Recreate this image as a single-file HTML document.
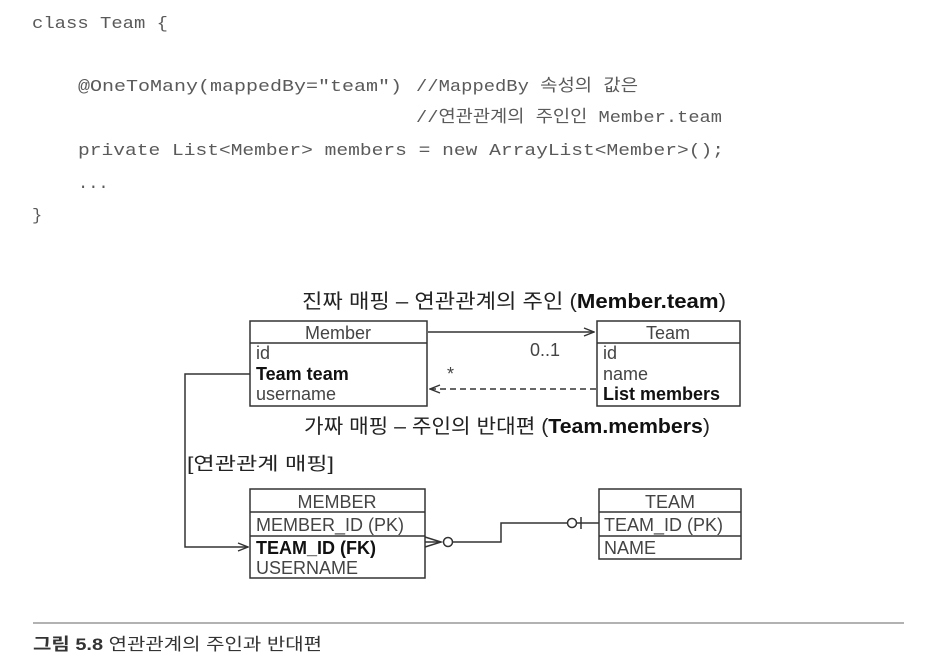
<!DOCTYPE html>
<html><head><meta charset="utf-8"><style>
html,body{margin:0;padding:0;background:#fff;}
svg{display:block}
.code{font-family:"Liberation Mono","Noto Sans CJK KR",monospace;font-size:17px;fill:#5a5a5a;}
.k{font-family:"Liberation Sans","Noto Sans CJK KR",sans-serif;}
</style></head><body>
<svg width="932" height="666" viewBox="0 0 932 666" xmlns="http://www.w3.org/2000/svg">
<defs>
<marker id="oa" markerWidth="12" markerHeight="10" refX="11" refY="5" orient="auto" markerUnits="userSpaceOnUse">
<path d="M1,1 L11,5 L1,9" fill="none" stroke="#333" stroke-width="1.4"/></marker>
</defs>
<g class="code">
<text x="32" y="28" textLength="136" lengthAdjust="spacingAndGlyphs">class Team {</text>
<text x="78" y="91" textLength="324" lengthAdjust="spacingAndGlyphs">@OneToMany(mappedBy="team")</text>
<text x="416" y="91" textLength="222" lengthAdjust="spacingAndGlyphs">//MappedBy 속성의 값은</text>
<text x="416" y="122" textLength="306" lengthAdjust="spacingAndGlyphs">//연관관계의 주인인 Member.team</text>
<text x="78" y="155" textLength="646" lengthAdjust="spacingAndGlyphs">private List&lt;Member&gt; members = new ArrayList&lt;Member&gt;();</text>
<text x="78" y="188">...</text>
<text x="32" y="220">}</text>
</g>
<g class="k" fill="#222" font-size="20">
<text x="302" y="308" textLength="424" lengthAdjust="spacingAndGlyphs">진짜 매핑 – 연관관계의 주인 (<tspan font-weight="bold" fill="#111">Member.team</tspan>)</text>
<text x="304" y="433" textLength="406" lengthAdjust="spacingAndGlyphs">가짜 매핑 – 주인의 반대편 (<tspan font-weight="bold" fill="#111">Team.members</tspan>)</text>
<text x="187" y="470" font-size="18" textLength="147" lengthAdjust="spacingAndGlyphs">[연관관계 매핑]</text>
</g>
<g fill="none" stroke="#333" stroke-width="1.5">
<rect x="250" y="321" width="177" height="85"/>
<line x1="250" y1="343" x2="427" y2="343"/>
<rect x="597" y="321" width="143" height="85"/>
<line x1="597" y1="343" x2="740" y2="343"/>
<line x1="428" y1="332" x2="594" y2="332" marker-end="url(#oa)"/>
<line x1="596" y1="389" x2="430" y2="389" stroke-dasharray="6,4" marker-end="url(#oa)"/>
<polyline points="250,374 185,374 185,547 248,547" marker-end="url(#oa)"/>
<rect x="250" y="489" width="175" height="89"/>
<line x1="250" y1="512" x2="425" y2="512"/>
<line x1="250" y1="536" x2="425" y2="536"/>
<rect x="599" y="489" width="142" height="70"/>
<line x1="599" y1="512" x2="741" y2="512"/>
<line x1="599" y1="536" x2="741" y2="536"/>
<polyline points="425,537 441,542 425,547"/>
<line x1="425" y1="542" x2="441" y2="542"/>
<circle cx="448" cy="542" r="4.5"/>
<polyline points="453,542 501,542 501,523 567,523"/>
<circle cx="572" cy="523" r="4.5"/>
<line x1="581" y1="517" x2="581" y2="529"/>
<line x1="577" y1="523" x2="599" y2="523"/>
</g>
<g class="k" font-size="18" fill="#444">
<text x="338" y="339" text-anchor="middle">Member</text>
<text x="256" y="359">id</text>
<text x="256" y="380" font-weight="bold" fill="#111">Team team</text>
<text x="256" y="400">username</text>
<text x="668" y="339" text-anchor="middle">Team</text>
<text x="603" y="359">id</text>
<text x="603" y="380">name</text>
<text x="603" y="400" font-weight="bold" fill="#111">List members</text>
<text x="530" y="356">0..1</text>
<text x="447" y="380">*</text>
<text x="337" y="508" text-anchor="middle">MEMBER</text>
<text x="256" y="531">MEMBER_ID (PK)</text>
<text x="256" y="554" font-weight="bold" fill="#111">TEAM_ID (FK)</text>
<text x="256" y="574">USERNAME</text>
<text x="670" y="508" text-anchor="middle">TEAM</text>
<text x="604" y="531">TEAM_ID (PK)</text>
<text x="604" y="554">NAME</text>
</g>
<line x1="33" y1="623" x2="904" y2="623" stroke="#999" stroke-width="1.5"/>
<text x="33" y="650" class="k" font-size="17" fill="#333" textLength="289" lengthAdjust="spacingAndGlyphs"><tspan font-weight="bold">그림 5.8</tspan> 연관관계의 주인과 반대편</text>
</svg>
</body></html>
